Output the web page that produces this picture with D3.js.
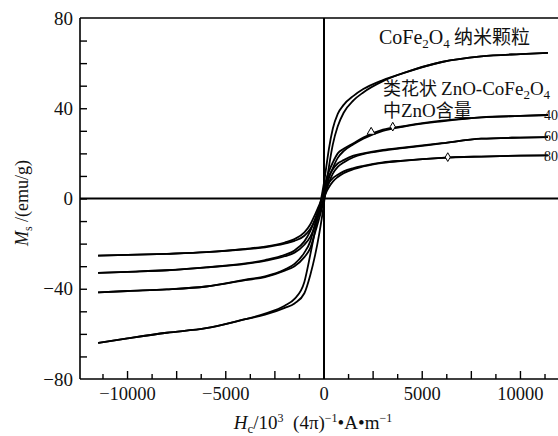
<!DOCTYPE html>
<html><head><meta charset="utf-8">
<script src="https://cdn.jsdelivr.net/npm/d3@7"></script>
<style>
html,body{margin:0;padding:0;background:#fff;}
svg{display:block;}
</style></head>
<body>
<svg id="chart" width="558" height="436"></svg>
<script>
// ---- data ----
const fieldH = [-11500,-10000,-8000,-6000,-4000,-3000,-2000,-1500,-1000,-700,-450,-250,-100,0,100,250,450,700,1000,1500,2000,3000,4000,6000,8000,10000,11400];
const coFeDesc = [-64,-62,-59.5,-57.5,-53.5,-51,-47.5,-44.5,-37,-25,-14,-5,2,7,13,22,31,37.5,41.5,45.5,48.5,52.5,55.5,60.5,63,64,64.5];
const coFeAsc  = [-64,-62,-59.5,-57.5,-53.5,-51.5,-48.5,-46.5,-42,-34,-25,-16,-8,-2,5,14,24,32,38,43.5,47,52,55.5,60.5,63,64,64.5];
const zn40Desc = [-41.6,-41,-40.3,-39,-36,-34.5,-31.5,-29,-24,-19,-11,-5,0,4,8,12,16,20,22,24.5,27,30.5,32,34.5,36,36.6,37];
const zn40Asc  = [-41.6,-41,-40.3,-39,-36.2,-34.8,-32,-30,-26,-22,-15,-9,-4,0,4,9,13.5,18,21,24,26.5,30,31.8,34.2,36,36.6,37];
const zn60Desc = [-33,-32.5,-31.8,-30.5,-28.8,-27.3,-25,-23,-19,-14.5,-9,-4,0,3,6.5,10,13,15.5,17,19,20,21.5,22.5,24.5,26.5,27,27.2];
const zn60Asc  = [-33,-32.5,-31.8,-30.5,-29,-27.6,-25.6,-24,-20.5,-17,-12,-7,-3,0,3,7,11,14,16,18.3,19.7,21.2,22.3,24.4,26.5,27,27.2];
const zn80Desc = [-25.3,-25,-24.5,-23.8,-22.3,-21.3,-19.5,-18,-15,-11.5,-7,-3,0,2,4.5,7,9,10.5,12,13.5,14.5,16,16.8,18,18.6,19,19.1];
const zn80Asc  = [-25.3,-25,-24.5,-23.8,-22.5,-21.6,-20,-18.8,-16.5,-13.5,-9.5,-5.5,-2.5,0,2.5,5,7.5,9.5,11.2,13,14.2,15.8,16.7,18,18.6,19,19.1];
const seriesLabels = ["40","60","80"];
const labelLevels = [37, 27.5, 19];
const markerTri = [[2400, 28.6]];
const markerDia = [[3500, 31.4],[6300, 17.9]];
const yTickLabels = [-80,-40,0,40,80];
const xTickLabels = [-10000,-5000,0,5000,10000];

// ---- layout ----
const svg = d3.select("#chart");
const x = d3.scaleLinear().domain([-12420, 12420]).range([80, 568]);
const y = d3.scaleLinear().domain([-80, 80]).range([379, 18]);
const serif = "'Liberation Serif','Times New Roman',serif";
const cjk = "'Noto Sans CJK SC','Liberation Serif',serif";

// frame
svg.append("line").attr("x1",80).attr("x2",558).attr("y1",y(80)).attr("y2",y(80)).attr("stroke","#000").attr("stroke-width",1.6);
svg.append("line").attr("x1",80).attr("x2",558).attr("y1",y(-80)).attr("y2",y(-80)).attr("stroke","#000").attr("stroke-width",1.6);
svg.append("line").attr("x1",80).attr("x2",80).attr("y1",y(80)).attr("y2",y(-80)).attr("stroke","#000").attr("stroke-width",1.6);

// y ticks (inward)
const yAxis = d3.axisRight(y).tickValues(d3.range(-70, 80, 10)).tickSize(7).tickFormat("");
svg.append("g").attr("transform","translate(80,0)").call(yAxis)
  .call(g=>g.select(".domain").remove())
  .call(g=>g.selectAll("line").attr("stroke","#000").attr("stroke-width",1.4));
svg.append("g").selectAll("text").data(yTickLabels).join("text")
  .attr("x",73).attr("y",d=>y(d)).attr("dy","0.35em").attr("text-anchor","end")
  .attr("font-family",serif).attr("font-size",19).attr("fill","#111")
  .text(d=>d<0?"\u2212"+Math.abs(d):d);

// x ticks (inward, major/minor)
const xt = d3.range(-11250, 12500, 1250).filter(v=>x(v)<558);
svg.append("g").selectAll("line").data(xt).join("line")
  .attr("x1",d=>x(d)).attr("x2",d=>x(d))
  .attr("y1",y(-80)).attr("y2",d=>y(-80)-(d%2500===0?8:5))
  .attr("stroke","#000").attr("stroke-width",1.4);
svg.append("g").selectAll("text").data(xTickLabels).join("text")
  .attr("x",d=>x(d)).attr("y",400).attr("text-anchor","middle")
  .attr("font-family",serif).attr("font-size",18.5).attr("fill","#111")
  .text(d=>d<0?"\u2212"+Math.abs(d):d);

// zero axes
svg.append("line").attr("x1",x(0)).attr("x2",x(0)).attr("y1",y(80)).attr("y2",y(-80)).attr("stroke","#000").attr("stroke-width",2);
svg.append("line").attr("x1",80).attr("x2",558).attr("y1",y(0)).attr("y2",y(0)).attr("stroke","#000").attr("stroke-width",2);

// curves
const line = d3.line().x(d=>x(d[0])).y(d=>y(d[1])).curve(d3.curveMonotoneX);
const branches = [coFeDesc, coFeAsc, zn40Desc, zn40Asc, zn60Desc, zn60Asc, zn80Desc, zn80Asc];
svg.append("g").selectAll("path").data(branches).join("path")
  .attr("d", vals => line(fieldH.map((h,i)=>[h, vals[i]])))
  .attr("fill","none").attr("stroke","#000").attr("stroke-width",1.8);

// markers
svg.append("g").selectAll("path").data(markerTri).join("path")
  .attr("d", d3.symbol().type(d3.symbolTriangle).size(28))
  .attr("transform", d=>`translate(${x(d[0])},${y(d[1])-2})`)
  .attr("fill","#fff").attr("stroke","#000").attr("stroke-width",1);
svg.append("g").selectAll("path").data(markerDia).join("path")
  .attr("d", d3.symbol().type(d3.symbolDiamond).size(22))
  .attr("transform", d=>`translate(${x(d[0])},${y(d[1])-1})`)
  .attr("fill","#fff").attr("stroke","#000").attr("stroke-width",1);

// series labels
svg.append("g").selectAll("text").data(seriesLabels).join("text")
  .attr("x",544).attr("y",(d,i)=>y(labelLevels[i])).attr("dy","0.35em")
  .attr("font-family",serif).attr("font-size",14).attr("fill","#111")
  .text(d=>d);

// annotations
const t1 = svg.append("text").attr("x",379).attr("y",44).attr("font-size",20).attr("fill","#111");
t1.append("tspan").attr("font-family",serif).text("CoFe");
t1.append("tspan").attr("font-family",serif).attr("font-size",13).attr("dy",4).text("2");
t1.append("tspan").attr("font-family",serif).attr("dy",-4).text("O");
t1.append("tspan").attr("font-family",serif).attr("font-size",13).attr("dy",4).text("4");
t1.append("tspan").attr("font-family",cjk).attr("font-size",19).attr("dy",-4).text(" 纳米颗粒");

const t2 = svg.append("text").attr("x",383).attr("y",95).attr("font-size",19).attr("fill","#111");
t2.append("tspan").attr("font-family",cjk).attr("font-size",18).text("类花状 ");
t2.append("tspan").attr("font-family",serif).text("ZnO-CoFe");
t2.append("tspan").attr("font-family",serif).attr("font-size",13).attr("dy",4).text("2");
t2.append("tspan").attr("font-family",serif).attr("dy",-4).text("O");
t2.append("tspan").attr("font-family",serif).attr("font-size",13).attr("dy",4).text("4");

const t3 = svg.append("text").attr("x",383).attr("y",117).attr("font-size",19).attr("fill","#111");
t3.append("tspan").attr("font-family",cjk).attr("font-size",18).text("中");
t3.append("tspan").attr("font-family",serif).text("ZnO");
t3.append("tspan").attr("font-family",cjk).attr("font-size",18).text("含量");

// axis titles
const xt2 = svg.append("text").attr("x",313).attr("y",429).attr("text-anchor","middle")
  .attr("font-family",serif).attr("font-size",19).attr("fill","#111");
xt2.append("tspan").attr("font-style","italic").text("H");
xt2.append("tspan").attr("font-size",13).attr("dy",4).text("c");
xt2.append("tspan").attr("dy",-4).text("/10");
xt2.append("tspan").attr("font-size",12).attr("dy",-7).text("3");
xt2.append("tspan").attr("dy",7).text("\u2002(4\u03c0)");
xt2.append("tspan").attr("font-size",12).attr("dy",-7).text("\u22121");
xt2.append("tspan").attr("dy",7).text("\u2022A\u2022m");
xt2.append("tspan").attr("font-size",12).attr("dy",-7).text("\u22121");

const yt = svg.append("text").attr("transform","translate(28,203) rotate(-90)").attr("text-anchor","middle")
  .attr("font-family",serif).attr("font-size",18).attr("fill","#111");
yt.append("tspan").attr("font-style","italic").text("M");
yt.append("tspan").attr("font-size",12).attr("dy",4).text("s");
yt.append("tspan").attr("dy",-4).text(" /(emu/g)");
</script>
</body></html>
